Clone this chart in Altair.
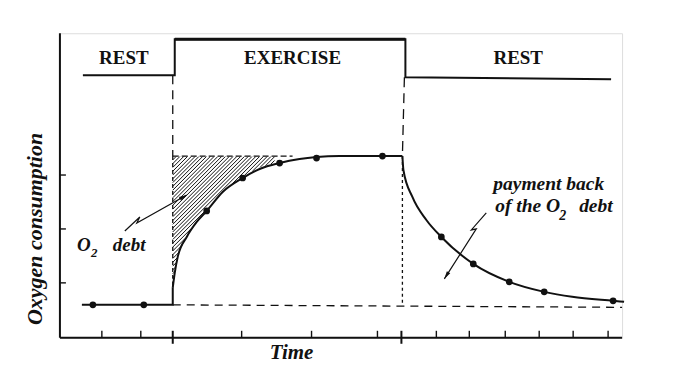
import altair as alt
import pandas as pd
import numpy as np

# ---------------- data (arbitrary time units / arbitrary O2 units) ----------------
rest_t = [2.2, 11.3, 11.3]
rest_v = [3.3, 3.3, 5.0]

rise_t = [11.3, 11.5, 11.8, 12.7, 13.7, 14.7, 16.3, 18.3, 20.0, 22.0, 24.0, 25.7, 28.0, 32.3, 34.3]
rise_v = [5.0, 6.5, 8.1, 10.1, 11.6, 12.7, 14.6, 16.0, 16.9, 17.5, 17.9, 18.1, 18.2, 18.2, 18.2]

drop_t = [34.3, 34.4, 35.3, 36.7, 38.2, 41.4, 45.0, 48.5, 51.3, 55.4, 56.5]
drop_v = [18.2, 16.8, 14.1, 11.8, 10.1, 7.4, 5.6, 4.6, 4.1, 3.7, 3.6]

pts_t = [3.3, 8.4, 14.7, 18.3, 22.0, 25.7, 32.3, 38.2, 41.4, 45.0, 48.5, 55.4]
pts_v = [3.3, 3.3, 12.7, 16.0, 17.5, 18.0, 18.2, 10.1, 7.4, 5.6, 4.6, 3.7]

# rest / exercise schedule bar
phase_t = [2.3, 11.5, 11.5, 34.6, 34.6, 55.2]
phase_v = [26.3, 26.3, 29.9, 29.9, 26.1, 25.9]
phase_labels = ["REST", "EXERCISE", "REST"]
phase_label_t = [6.4, 23.3, 45.9]
phase_label_v = 27.4

ex_start, ex_end = 11.3, 34.3
plateau = 18.2
baseline_v = [3.3, 3.05]
hatch_end = 21.5
hatch_top_end = 23.3

xticks_minor = [4.2, 8.1, 18.2, 25.2, 31.8, 37.7, 41.0, 44.6, 48.0, 51.4, 54.9]
xticks_major = [11.3, 34.2]
yticks = [5.5, 10.9, 16.3]

arrow1_t = [6.5, 8.0, 7.7, 12.7]
arrow1_v = [10.7, 12.1, 11.5, 14.3]
arrow2_t = [42.7, 41.2, 41.7, 38.5]
arrow2_v = [12.5, 10.8, 10.9, 5.9]

XMAX, YMAX = 56.3, 30.5
INK = "#111111"
FONT = "Liberation Serif"

xs = alt.Scale(domain=[0, XMAX], nice=False, zero=False)
ys = alt.Scale(domain=[0, YMAX], nice=False, zero=False)


def X(f):
    return alt.X(f, type="quantitative", scale=xs, axis=None)


def Y(f):
    return alt.Y(f, type="quantitative", scale=ys, axis=None)


def X2(f):
    return alt.X2(f)


def Y2(f):
    return alt.Y2(f)


layers = []

# ---------------- hatch (computed from curve) ----------------
hx = np.arange(ex_start, hatch_end + 1e-9, 0.01)
hf = np.interp(hx, rise_t, rise_v)
segs = []
for c in np.arange(plateau - ex_start, -8.0, -0.38):
    yy = hx + c
    m = (yy >= hf + 0.15) & (yy <= plateau - 0.05)
    if not m.any():
        continue
    idx = np.where(m)[0]
    breaks = np.where(np.diff(idx) > 1)[0]
    starts = np.concatenate([[idx[0]], idx[breaks + 1]])
    ends = np.concatenate([idx[breaks], [idx[-1]]])
    for s, e in zip(starts, ends):
        if e - s < 3:
            continue
        segs.append(dict(x=hx[s], y=yy[s], x2=hx[e], y2=yy[e]))
hatch_df = pd.DataFrame(segs)
layers.append(
    alt.Chart(hatch_df).mark_rule(color=INK, strokeWidth=1.0)
    .encode(x=X("x"), y=Y("y"), x2=X2("x2"), y2=Y2("y2"))
)

# ---------------- axes (frame) ----------------
axes_df = pd.DataFrame(dict(x=[0, 0], y=[0, 0], x2=[XMAX, 0], y2=[0, YMAX]))
layers.append(
    alt.Chart(axes_df).mark_rule(color=INK, strokeWidth=2)
    .encode(x=X("x"), y=Y("y"), x2=X2("x2"), y2=Y2("y2"))
)
tick_df = pd.DataFrame(dict(x=xticks_minor, y=[0] * len(xticks_minor), y2=[0.7] * len(xticks_minor)))
layers.append(
    alt.Chart(tick_df).mark_rule(color=INK, strokeWidth=1.4)
    .encode(x=X("x"), y=Y("y"), y2=Y2("y2"))
)
tickM_df = pd.DataFrame(dict(x=xticks_major, y=[-0.6] * 2, y2=[0.7] * 2))
layers.append(
    alt.Chart(tickM_df).mark_rule(color=INK, strokeWidth=2)
    .encode(x=X("x"), y=Y("y"), y2=Y2("y2"))
)
ytick_df = pd.DataFrame(dict(y=yticks, x=[0] * 3, x2=[0.6] * 3))
layers.append(
    alt.Chart(ytick_df).mark_rule(color=INK, strokeWidth=1.4)
    .encode(y=Y("y"), x=X("x"), x2=X2("x2"))
)

# ---------------- dashed guides ----------------
dashed = [
    (dict(x=[ex_start], y=[phase_v[0]], x2=[ex_start], y2=[plateau]), [9, 6]),
    (dict(x=[ex_start], y=[plateau], x2=[ex_start], y2=[rest_v[-1]]), [4, 3]),
    (dict(x=[ex_start], y=[plateau], x2=[hatch_top_end], y2=[plateau]), [6, 3]),
    (dict(x=[ex_end + 0.2], y=[phase_v[-2]], x2=[ex_end], y2=[plateau]), [10, 6]),
    (dict(x=[ex_end], y=[plateau], x2=[ex_end], y2=[baseline_v[0] - 0.1]), [3, 3]),
    (dict(x=[ex_start], y=[baseline_v[0]], x2=[XMAX], y2=[baseline_v[1]]), [8, 6]),
]
for d, dash in dashed:
    layers.append(
        alt.Chart(pd.DataFrame(d)).mark_rule(color=INK, strokeWidth=1.3, strokeDash=dash)
        .encode(x=X("x"), y=Y("y"), x2=X2("x2"), y2=Y2("y2"))
    )

# ---------------- schedule bar ----------------
phase_df = pd.DataFrame(dict(t=phase_t, v=phase_v, i=range(len(phase_t))))
layers.append(
    alt.Chart(phase_df).mark_line(color=INK, strokeWidth=2)
    .encode(x=X("t"), y=Y("v"), order=alt.Order("i:Q"))
)
ex_df = pd.DataFrame(dict(x=[phase_t[2]], x2=[phase_t[3]], y=[phase_v[2]]))
layers.append(
    alt.Chart(ex_df).mark_rule(color=INK, strokeWidth=3)
    .encode(x=X("x"), x2=X2("x2"), y=Y("y"))
)
lab_df = pd.DataFrame(dict(t=phase_label_t, v=[phase_label_v] * 3, s=phase_labels))
layers.append(
    alt.Chart(lab_df).mark_text(font=FONT, fontWeight="bold", fontSize=19, color=INK,
                                align="center", baseline="alphabetic")
    .encode(x=X("t"), y=Y("v"), text="s:N")
)

# ---------------- O2 curve ----------------
rest_df = pd.DataFrame(dict(t=rest_t, v=rest_v, i=range(len(rest_t))))
layers.append(
    alt.Chart(rest_df).mark_line(color=INK, strokeWidth=2)
    .encode(x=X("t"), y=Y("v"), order=alt.Order("i:Q"))
)
curve_df = pd.concat([
    pd.DataFrame(dict(t=rise_t, v=rise_v, seg="rise")),
    pd.DataFrame(dict(t=drop_t, v=drop_v, seg="drop")),
])
layers.append(
    alt.Chart(curve_df).mark_line(color=INK, strokeWidth=2, interpolate="monotone")
    .encode(x=X("t"), y=Y("v"), detail="seg:N")
)
pts_df = pd.DataFrame(dict(t=pts_t, v=pts_v))
layers.append(
    alt.Chart(pts_df).mark_point(filled=True, color=INK, size=45, opacity=1)
    .encode(x=X("t"), y=Y("v"))
)

# ---------------- annotation arrows ----------------
SHAPE = "M0,-1L0.42,0.7L-0.42,0.7Z"
for at, av in [(arrow1_t, arrow1_v), (arrow2_t, arrow2_v)]:
    adf = pd.DataFrame(dict(t=at, v=av, i=range(len(at))))
    layers.append(
        alt.Chart(adf).mark_line(color=INK, strokeWidth=1.2)
        .encode(x=X("t"), y=Y("v"), order=alt.Order("i:Q"))
    )
    dx, dy = at[-1] - at[-2], av[-1] - av[-2]
    n = np.hypot(dx, dy)
    ang = float(np.degrees(np.arctan2(dx, dy)) % 360)
    hdf = pd.DataFrame(dict(t=[at[-1] - 0.45 * dx / n], v=[av[-1] - 0.45 * dy / n]))
    layers.append(
        alt.Chart(hdf).mark_point(shape=SHAPE, filled=True, color=INK, size=90, angle=ang, opacity=1)
        .encode(x=X("t"), y=Y("v"))
    )

# ---------------- italic labels ----------------
def itext(t, v, s, size, align="left", angle=None):
    kw = dict(font=FONT, fontWeight="bold", fontStyle="italic", fontSize=size, color=INK,
              align=align, baseline="alphabetic")
    if angle is not None:
        kw["angle"] = angle
    return (alt.Chart(pd.DataFrame(dict(t=[t], v=[v], s=[s])))
            .mark_text(**kw).encode(x=X("t"), y=Y("v"), text="s:N"))


layers += [
    itext(1.7, 8.7, "O", 19),
    itext(3.1, 8.1, "2", 13),
    itext(5.3, 8.7, "debt", 19),
    itext(43.4, 14.8, "payment back", 19.5),
    itext(43.6, 12.6, "of the O", 19.5),
    itext(50.0, 11.8, "2", 14),
    itext(52.0, 12.6, "debt", 19.5),
    itext(23.2, -2.1, "Time", 21, align="center"),
    itext(-1.8, 10.9, "Oxygen consumption", 22, align="center", angle=270),
]

chart = (
    alt.layer(*layers)
    .properties(width=563, height=305, autosize=alt.AutoSizeParams(type="none"),
                padding={"left": 52, "top": 25, "right": 50, "bottom": 40})
    .configure_view(stroke=None)
    .configure(background="white")
)

chart.save("out.html", embed_options={"renderer": "svg", "actions": False})
